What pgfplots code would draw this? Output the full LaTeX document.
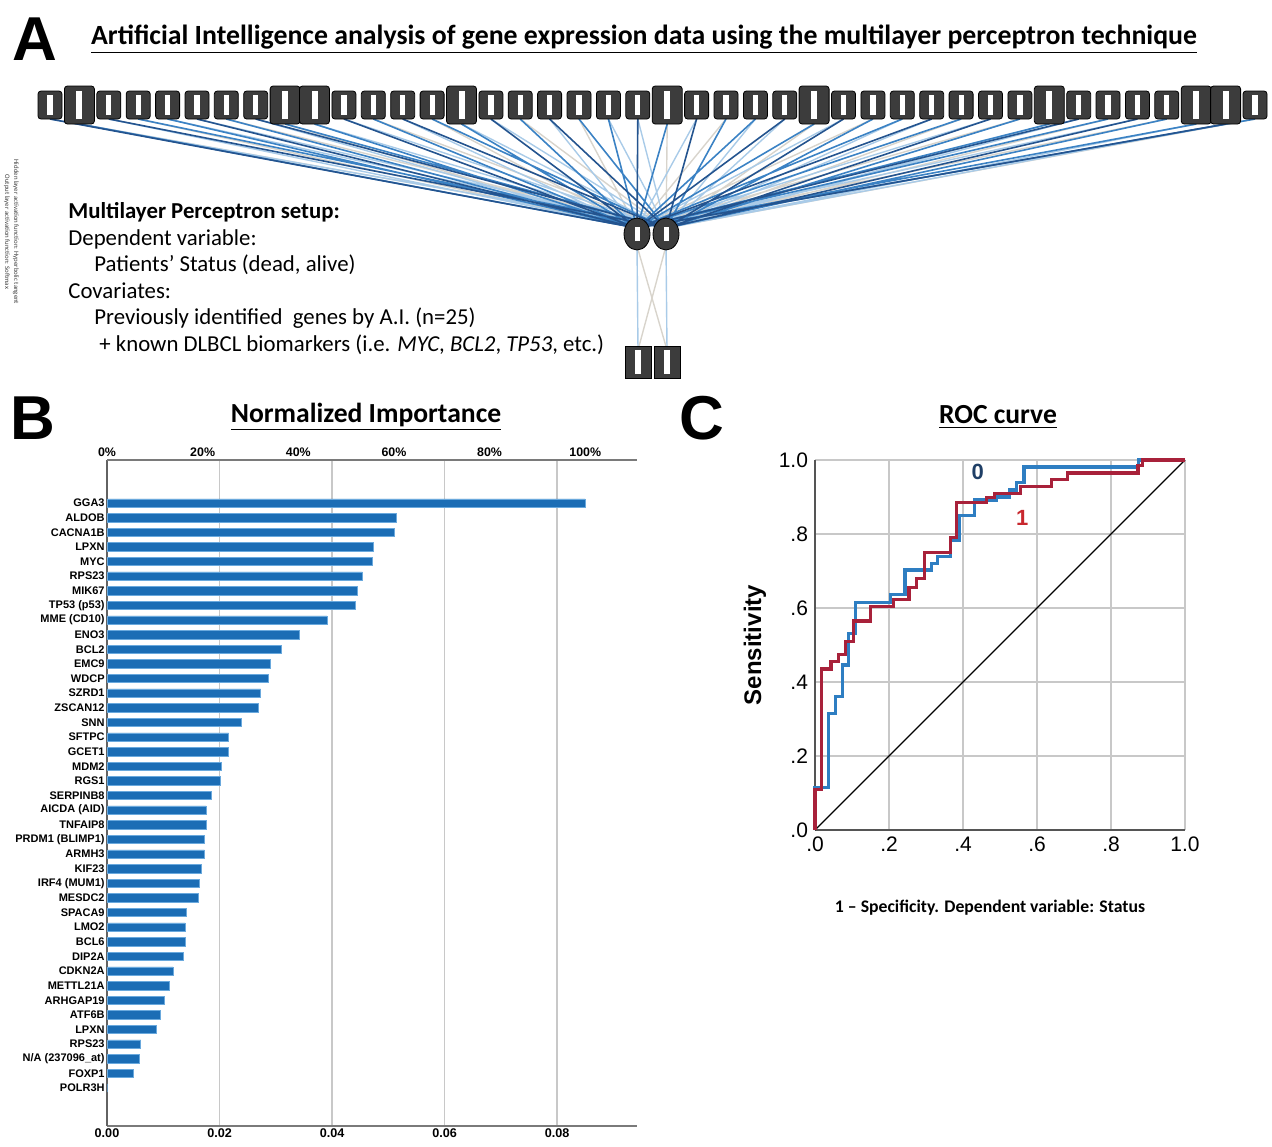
\documentclass[border=0pt]{standalone}
\usepackage{pgfplots}
\pgfplotsset{compat=1.18}
\usepackage{pgfplotstable}
\usepackage{fontspec}
\setmainfont{Carlito}
\newfontfamily\arial{Liberation Sans}
\usetikzlibrary{shapes.geometric}

\definecolor{barblue}{HTML}{1B6DB5}
\definecolor{baredge}{HTML}{6AA9DD}
\definecolor{rocblue}{HTML}{2E7EC2}
\definecolor{rocred}{HTML}{A8213A}
\definecolor{nodegray}{HTML}{3C3C3C}
\definecolor{lnD}{HTML}{24548F}
\definecolor{lnM}{HTML}{3B82C4}
\definecolor{lnL}{HTML}{A9CBE8}
\definecolor{lnG}{HTML}{D8D4CC}
\definecolor{gridgray}{HTML}{C8C8C8}
\definecolor{axgray}{HTML}{7A7A7A}
\definecolor{zeroblue}{HTML}{1F3F66}
\definecolor{onered}{HTML}{C8282E}

\pgfplotstableread{
idx val
0 0.0850
1 0.0514
2 0.0510
3 0.0473
4 0.0471
5 0.0454
6 0.0445
7 0.0442
8 0.0391
9 0.0342
10 0.0310
11 0.0291
12 0.0286
13 0.0273
14 0.0269
15 0.0238
16 0.0216
17 0.0216
18 0.0203
19 0.0201
20 0.0185
21 0.0176
22 0.0176
23 0.0173
24 0.0173
25 0.0167
26 0.0164
27 0.0162
28 0.0141
29 0.0139
30 0.0139
31 0.0136
32 0.0117
33 0.0111
34 0.0101
35 0.0095
36 0.0088
37 0.0060
38 0.0058
39 0.0047
40 0.0000
}\barsdata

\pgfplotstableread{
x y
50.0 105
108.8 105
138.2 105
167.6 105
197.0 105
226.3 105
255.7 105
343.9 105
373.3 105
402.7 105
432.1 105
490.9 105
520.2 105
549.6 105
579.0 105
608.4 105
637.8 105
696.6 105
726.0 105
755.4 105
784.8 105
843.5 105
872.9 105
902.3 105
931.7 105
961.1 105
990.5 105
1019.9 105
1078.7 105
1108.0 105
1137.4 105
1166.8 105
1255.0 105
}\smallnodes

\pgfplotstableread{
x y
79.4 105
285.1 105
314.5 105
461.5 105
667.2 105
814.1 105
1049.3 105
1196.2 105
1225.6 105
}\largenodes

\begin{document}
\begin{tikzpicture}
\useasboundingbox (0,0) rectangle (636pt,-573pt);

% ---------------- Panel A ----------------
\node[font=\arial\bfseries\fontsize{31}{31}\selectfont] at (17.5pt,-19.5pt) {A};
\node[font=\bfseries\fontsize{13.9}{15}\selectfont] at (322pt,-19.5pt) {\underline{Artificial Intelligence analysis of gene expression data using the multilayer perceptron technique}};

\begin{axis}[at={(0pt,-35pt)}, anchor=north west, scale only axis,
  width=636pt, height=165pt, xmin=0, xmax=1272, ymin=70, ymax=400,
  y dir=reverse, axis lines=none, clip=false, unbounded coords=jump]
% gray connections
\addplot[lnG, line width=0.7pt] coordinates {
(79.4,124)(666,228)(nan,nan)(226.3,119)(666,228)(nan,nan)(373.3,119)(666,228)(nan,nan)(520.2,119)(666,228)(nan,nan)(667.2,124)(666,228)(nan,nan)(814.1,124)(666,228)(nan,nan)(961.1,119)(666,228)(nan,nan)(1108.0,119)(666,228)(nan,nan)(1255.0,119)(666,228)(nan,nan)
(138.2,119)(637,228)(nan,nan)(285.1,124)(637,228)(nan,nan)(432.1,119)(637,228)(nan,nan)(579.0,119)(637,228)(nan,nan)(726.0,119)(637,228)(nan,nan)(872.9,119)(637,228)(nan,nan)(1019.9,119)(637,228)(nan,nan)(1166.8,119)(637,228)(nan,nan)
(637,246)(667,350)(nan,nan)(666,246)(638,350)};
% light blue connections
\addplot[lnL, line width=0.7pt] coordinates {
(50.0,119)(666,228)(nan,nan)(197.0,119)(666,228)(nan,nan)(343.9,119)(666,228)(nan,nan)(490.9,119)(666,228)(nan,nan)(637.8,119)(666,228)(nan,nan)(784.8,119)(666,228)(nan,nan)(931.7,119)(666,228)(nan,nan)(1078.7,119)(666,228)(nan,nan)(1225.6,124)(666,228)(nan,nan)
(167.6,119)(666,228)(nan,nan)(314.5,124)(666,228)(nan,nan)(461.5,124)(666,228)(nan,nan)(608.4,119)(666,228)(nan,nan)(755.4,119)(666,228)(nan,nan)(902.3,119)(666,228)(nan,nan)(1049.3,124)(666,228)(nan,nan)(1196.2,124)(666,228)(nan,nan)
(108.8,119)(637,228)(nan,nan)(255.7,119)(637,228)(nan,nan)(402.7,119)(637,228)(nan,nan)(549.6,119)(637,228)(nan,nan)(696.6,119)(637,228)(nan,nan)(843.5,119)(637,228)(nan,nan)(990.5,119)(637,228)(nan,nan)(1137.4,119)(637,228)(nan,nan)
(637,246)(638,350)(nan,nan)(666,246)(667,350)};
% mid blue connections
\addplot[lnM, line width=0.8pt] coordinates {
(79.4,124)(637,228)(nan,nan)(226.3,119)(637,228)(nan,nan)(373.3,119)(637,228)(nan,nan)(520.2,119)(637,228)(nan,nan)(667.2,124)(637,228)(nan,nan)(814.1,124)(637,228)(nan,nan)(961.1,119)(637,228)(nan,nan)(1108.0,119)(637,228)(nan,nan)(1255.0,119)(637,228)(nan,nan)
(167.6,119)(637,228)(nan,nan)(314.5,124)(637,228)(nan,nan)(461.5,124)(637,228)(nan,nan)(608.4,119)(637,228)(nan,nan)(755.4,119)(637,228)(nan,nan)(902.3,119)(637,228)(nan,nan)(1049.3,124)(637,228)(nan,nan)(1196.2,124)(637,228)(nan,nan)
(138.2,119)(666,228)(nan,nan)(285.1,124)(666,228)(nan,nan)(432.1,119)(666,228)(nan,nan)(579.0,119)(666,228)(nan,nan)(726.0,119)(666,228)(nan,nan)(872.9,119)(666,228)(nan,nan)(1019.9,119)(666,228)(nan,nan)(1166.8,119)(666,228)};
% dark blue connections
\addplot[lnD, line width=0.8pt] coordinates {
(50.0,119)(637,228)(nan,nan)(197.0,119)(637,228)(nan,nan)(343.9,119)(637,228)(nan,nan)(490.9,119)(637,228)(nan,nan)(637.8,119)(637,228)(nan,nan)(784.8,119)(637,228)(nan,nan)(931.7,119)(637,228)(nan,nan)(1078.7,119)(637,228)(nan,nan)(1225.6,124)(637,228)(nan,nan)
(108.8,119)(666,228)(nan,nan)(255.7,119)(666,228)(nan,nan)(402.7,119)(666,228)(nan,nan)(549.6,119)(666,228)(nan,nan)(696.6,119)(666,228)(nan,nan)(843.5,119)(666,228)(nan,nan)(990.5,119)(666,228)(nan,nan)(1137.4,119)(666,228)};
% input nodes (normal)
\addplot[only marks, mark=none,
  nodes near coords={\textcolor{white}{\rule{2.6pt}{10pt}}},
  every node near coord/.append style={anchor=center, draw=black, fill=nodegray,
    rounded corners=1.5pt, minimum width=12pt, minimum height=14pt,
    inner sep=0pt, line width=0.4pt}]
  table[x=x, y=y] {\smallnodes};
% input nodes (large)
\addplot[only marks, mark=none,
  nodes near coords={\textcolor{white}{\rule{3pt}{14pt}}},
  every node near coord/.append style={anchor=center, draw=black, fill=nodegray,
    rounded corners=1.5pt, minimum width=15pt, minimum height=19pt,
    inner sep=0pt, line width=0.4pt}]
  table[x=x, y=y] {\largenodes};
% hidden nodes
\addplot[only marks, mark=none,
  nodes near coords={\textcolor{white}{\rule{2.5pt}{7pt}}},
  every node near coord/.append style={anchor=center, ellipse, draw=black, fill=nodegray,
    minimum width=13pt, minimum height=16pt, inner sep=0pt, line width=0.4pt}]
  coordinates {(637,234) (666,234)};
% output nodes
\addplot[only marks, mark=none,
  nodes near coords={\textcolor{white}{\rule{2.6pt}{12pt}}},
  every node near coord/.append style={anchor=center, draw=black, fill=nodegray,
    minimum width=13pt, minimum height=16pt, inner sep=0pt, line width=0.4pt}]
  coordinates {(638,362) (667,362)};
\end{axis}

\node[rotate=-90, font=\fontsize{3.4}{4}\selectfont, text=darkgray] at (8pt,-116pt) {Hidden layer activation function: Hyperbolic tangent};
\node[rotate=-90, font=\fontsize{3.4}{4}\selectfont, text=darkgray] at (3.5pt,-116pt) {Output layer activation function: Softmax};

\begin{scope}[font=\fontsize{11.4}{13}\selectfont, every node/.style={inner sep=0pt}]
\node[anchor=west, font=\bfseries\fontsize{11.4}{13}\selectfont] at (34pt,-106pt) {Multilayer Perceptron setup:};
\node[anchor=west] at (34pt,-119.5pt) {Dependent variable:};
\node[anchor=west] at (47pt,-132.5pt) {Patients’ Status (dead, alive)};
\node[anchor=west] at (34pt,-145.5pt) {Covariates:};
\node[anchor=west] at (47pt,-159pt) {Previously identified \ genes by A.I. (n=25)};
\node[anchor=west] at (49.5pt,-172.5pt) {+ known DLBCL biomarkers (i.e. \textit{MYC}, \textit{BCL2}, \textit{TP53}, etc.)};
\end{scope}

% ---------------- Panel B ----------------
\node[font=\arial\bfseries\fontsize{31}{31}\selectfont] at (16.5pt,-209pt) {B};
\node[font=\bfseries\fontsize{13.8}{15}\selectfont] at (183pt,-208.5pt) {\underline{Normalized Importance}};

\begin{axis}[at={(53.5pt,-230pt)}, anchor=north west, scale only axis,
  width=265pt, height=333pt,
  xmin=0, xmax=0.0942, ymin=-2.94, ymax=42.6, y dir=reverse, enlargelimits=false,
  xbar, bar width=4.2pt,
  axis x line*=bottom, axis y line*=left,
  x axis line style={axgray, line width=0.6pt},
  y axis line style={axgray!80!black, line width=0.7pt},
  xtick={0,0.02,0.04,0.06,0.08},
  xticklabels={0.00,0.02,0.04,0.06,0.08},
  ytick={0,1,...,40},
  yticklabels={GGA3,ALDOB,CACNA1B,LPXN,MYC,RPS23,MIK67,{TP53 (p53)},{MME (CD10)},ENO3,BCL2,EMC9,WDCP,SZRD1,ZSCAN12,SNN,SFTPC,GCET1,MDM2,RGS1,SERPINB8,{AICDA (AID)},TNFAIP8,{PRDM1 (BLIMP1)},ARMH3,KIF23,{IRF4 (MUM1)},MESDC2,SPACA9,LMO2,BCL6,DIP2A,CDKN2A,METTL21A,ARHGAP19,ATF6B,LPXN,RPS23,{N/A (237096\_at)},FOXP1,POLR3H},
  major tick length=0pt,
  xmajorgrids, grid style={gridgray, line width=0.7pt},
  yticklabel style={font=\arial\bfseries\fontsize{5.5}{6}\selectfont, inner sep=1pt},
  xticklabel style={font=\arial\bfseries\fontsize{6.3}{7}\selectfont, inner sep=1pt},
]
\addplot[fill=barblue, draw=baredge, line width=0.3pt] table[x=val, y=idx] {\barsdata};
\end{axis}
\begin{axis}[at={(53.5pt,-230pt)}, anchor=north west, scale only axis,
  width=265pt, height=333pt,
  xmin=0, xmax=110.82, ymin=0, ymax=1, enlargelimits=false,
  axis x line*=top, axis y line=none,
  x axis line style={axgray, line width=0.6pt},
  xtick={0,20,40,60,80,100},
  xticklabels={0\%,20\%,40\%,60\%,80\%,100\%},
  major tick length=0pt,
  xticklabel style={font=\arial\bfseries\fontsize{6.2}{7}\selectfont, inner sep=1.5pt},
]
\end{axis}

% ---------------- Panel C ----------------
\node[font=\arial\bfseries\fontsize{31}{31}\selectfont] at (351pt,-209pt) {C};
\node[font=\bfseries\fontsize{13.8}{15}\selectfont] at (499pt,-208.5pt) {\underline{ROC curve}};

\begin{axis}[at={(407.5pt,-230pt)}, anchor=north west, scale only axis,
  width=185pt, height=185pt,
  xmin=0, xmax=1, ymin=0, ymax=1, enlargelimits=false,
  axis lines*=left, axis line style={axgray!70!black, line width=0.8pt},
  grid=major, grid style={gridgray, line width=0.7pt},
  xtick={0,0.2,0.4,0.6,0.8,1}, ytick={0,0.2,0.4,0.6,0.8,1},
  xticklabels={.0,.2,.4,.6,.8,1.0}, yticklabels={.0,.2,.4,.6,.8,1.0},
  major tick length=0pt,
  ticklabel style={font=\arial\fontsize{10.5}{12}\selectfont},
  clip=false]
\addplot[black, line width=0.6pt] coordinates {(0,0) (1,1)};
\addplot[rocblue, line width=1.6pt] coordinates {(0,0)(0,0.115)(0.036,0.115)(0.036,0.315)(0.056,0.315)(0.056,0.36)(0.074,0.36)(0.074,0.446)(0.09,0.446)(0.09,0.532)(0.11,0.532)(0.11,0.615)(0.205,0.615)(0.205,0.637)(0.243,0.637)(0.243,0.703)(0.314,0.703)(0.314,0.72)(0.332,0.72)(0.332,0.739)(0.366,0.739)(0.366,0.784)(0.39,0.784)(0.39,0.851)(0.43,0.851)(0.43,0.892)(0.49,0.892)(0.49,0.9)(0.525,0.9)(0.525,0.919)(0.545,0.919)(0.545,0.939)(0.565,0.939)(0.565,0.981)(0.875,0.981)(0.875,1)(1,1)};
\addplot[rocred, line width=1.6pt] coordinates {(0,0)(0,0.11)(0.018,0.11)(0.018,0.435)(0.043,0.435)(0.043,0.455)(0.063,0.455)(0.063,0.475)(0.083,0.475)(0.083,0.51)(0.104,0.51)(0.104,0.565)(0.149,0.565)(0.149,0.605)(0.212,0.605)(0.212,0.622)(0.254,0.622)(0.254,0.656)(0.274,0.656)(0.274,0.68)(0.296,0.68)(0.296,0.75)(0.367,0.75)(0.367,0.791)(0.382,0.791)(0.382,0.886)(0.463,0.886)(0.463,0.899)(0.486,0.899)(0.486,0.91)(0.556,0.91)(0.556,0.928)(0.64,0.928)(0.64,0.947)(0.682,0.947)(0.682,0.965)(0.873,0.965)(0.873,0.985)(0.885,0.985)(0.885,1)(1,1)};
\node[font=\arial\bfseries\fontsize{11}{12}\selectfont, text=zeroblue] at (axis cs:0.44,0.968) {0};
\node[font=\arial\bfseries\fontsize{11}{12}\selectfont, text=onered] at (axis cs:0.56,0.843) {1};
\end{axis}
\node[rotate=90, font=\arial\bfseries\fontsize{12}{13}\selectfont] at (377.5pt,-322.5pt) {Sensitivity};
\node[font=\bfseries\fontsize{8.85}{10}\selectfont] at (495pt,-454pt) {1 – Specificity. Dependent variable: Status};
\end{tikzpicture}
\end{document}
